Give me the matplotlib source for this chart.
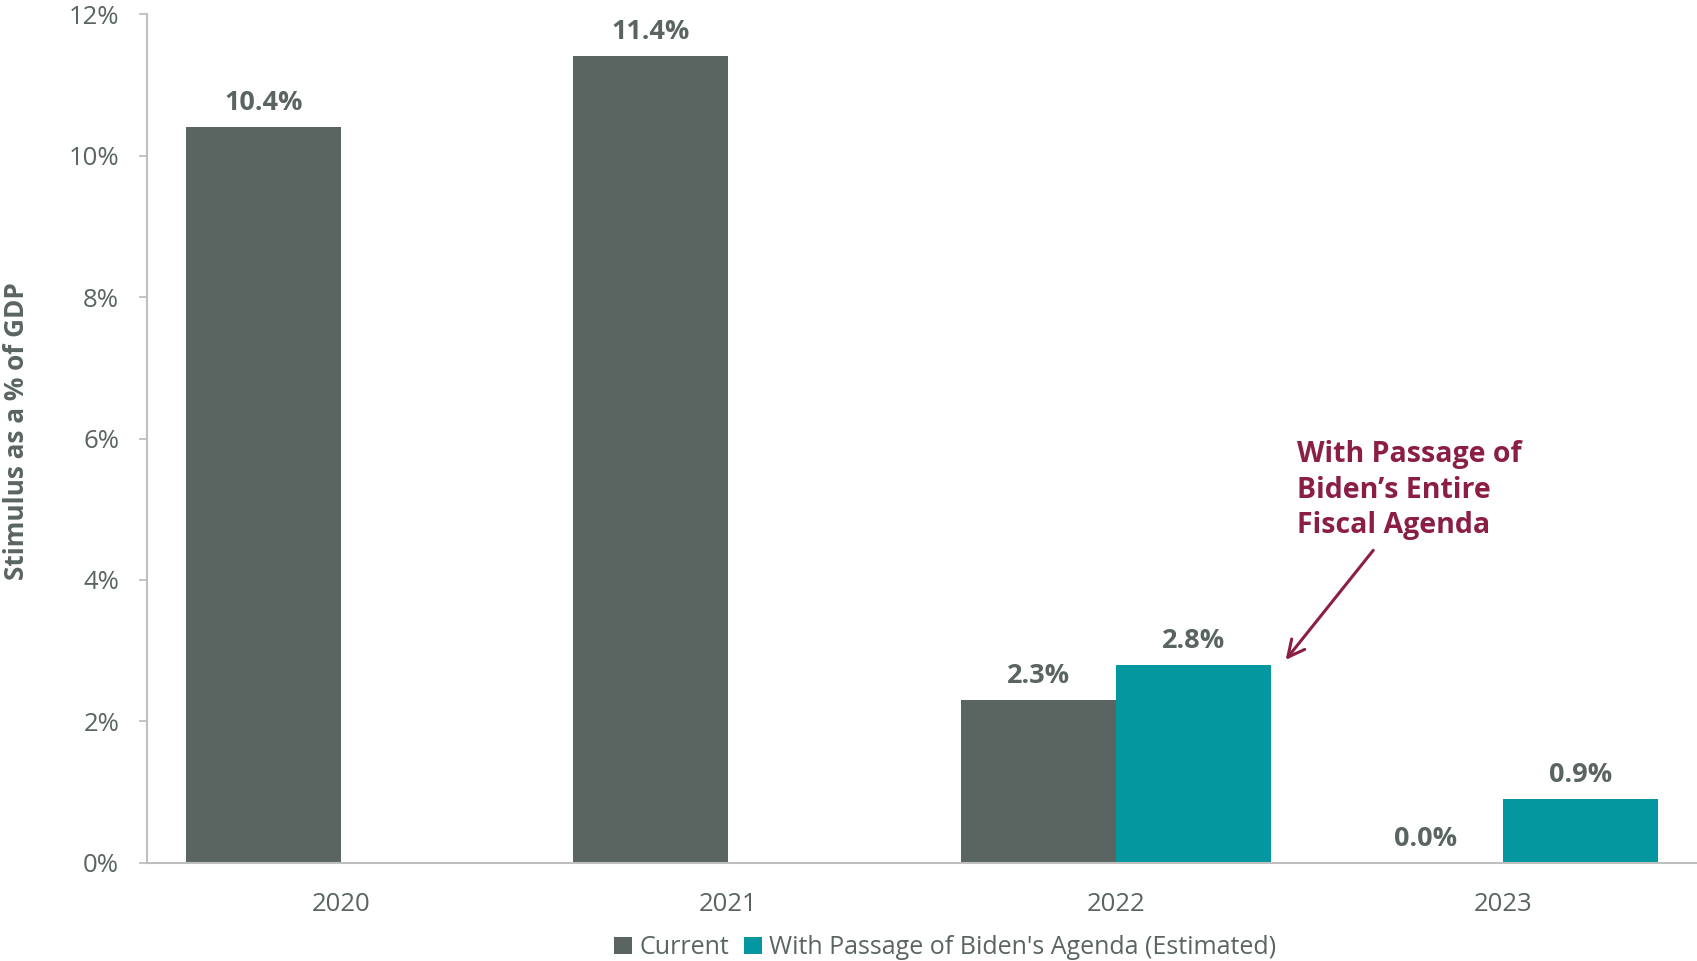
import numpy as np
import matplotlib
matplotlib.use("Agg")
import matplotlib.pyplot as plt

# data
years = ["2020", "2021", "2022", "2023"]
current = [10.4, 11.4, 2.3, 0.0]
biden = [np.nan, np.nan, 2.8, 0.9]
series_names = ["Current", "With Passage of Biden's Agenda (Estimated)"]
y_ticks = [0, 2, 4, 6, 8, 10, 12]

dark = "#5A6562"
teal = "#05979F"
maroon = "#8B1E45"
axis_gray = "#BFBFBF"

plt.rcParams['font.family'] = ['Open Sans', 'DejaVu Sans']

fig = plt.figure(figsize=(16.97, 9.61), dpi=100)
ax = fig.add_axes([0.0866, 0.102, 0.9134, 0.8834])

x = np.arange(len(years))
w = 0.4
b1 = ax.bar(x - w / 2, current, w, color=dark, label=series_names[0])
b2 = ax.bar(x + w / 2, biden, w, color=teal, label=series_names[1])

# value labels
for xi, v in zip(x - w / 2, current):
    ax.annotate(f"{v:.1f}%", (xi, v), xytext=(0, 8), textcoords="offset points",
                ha="center", va="bottom", fontsize=19.5, fontweight="bold", color=dark)
for xi, v in zip(x + w / 2, biden):
    if np.isnan(v):
        continue
    ax.annotate(f"{v:.1f}%", (xi, v), xytext=(0, 8), textcoords="offset points",
                ha="center", va="bottom", fontsize=19.5, fontweight="bold", color=dark)

# callout
ax.annotate("With Passage of\nBiden\u2019s Entire\nFiscal Agenda",
            xy=(2.434, 2.84), xytext=(2.468, 5.98),
            ha="left", va="top", fontsize=20.5, fontweight="bold", color=maroon,
            linespacing=1.3)
ax.annotate("", xy=(2.434, 2.84), xytext=(2.669, 4.45),
            arrowprops=dict(arrowstyle="->", color=maroon, lw=2.2,
                            mutation_scale=30))

ax.set_xlim(-0.5, 3.5)
ax.set_ylim(0, 12)
ax.set_xticks(x)
ax.set_xticklabels(years)
ax.set_yticks(y_ticks)
ax.set_yticklabels([f"{t}%" for t in y_ticks])
ax.tick_params(axis="x", length=0, pad=21, labelsize=18.5, labelcolor=dark)
ax.tick_params(axis="y", length=6, width=1.3, color=axis_gray, pad=14,
               labelsize=18.5, labelcolor=dark)

for s in ["top", "right"]:
    ax.spines[s].set_visible(False)
for s in ["left", "bottom"]:
    ax.spines[s].set_color(axis_gray)
    ax.spines[s].set_linewidth(1.5)

fig.text(0.01, 0.551, "Stimulus as a % of GDP", rotation=90, ha="center",
         va="center", fontsize=18.8, fontweight="bold", color=dark)

fig.legend(handles=[b1, b2], loc="center", bbox_to_anchor=(0.557, 0.014),
           ncol=2, frameon=False, fontsize=18, labelcolor=dark,
           handlelength=0.7, handleheight=0.7, handletextpad=0.3,
           columnspacing=0.6)

fig.savefig("out.png", dpi=100)
